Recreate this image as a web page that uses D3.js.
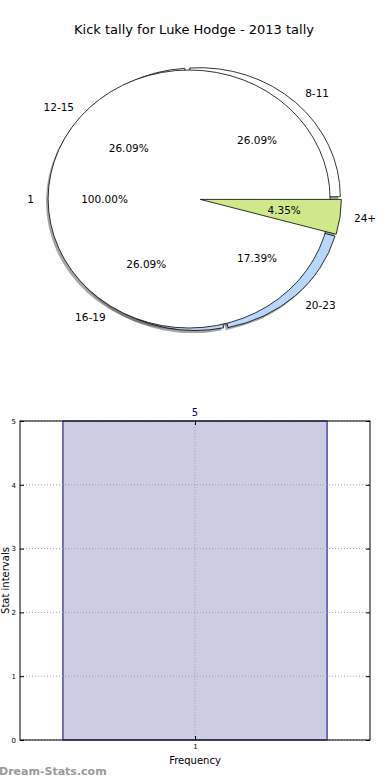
<!DOCTYPE html>
<html>
<head>
<meta charset="utf-8">
<script src="https://cdn.jsdelivr.net/npm/d3@7"></script>
<style>
  body { margin: 0; background: #fff; }
  svg { display: block; font-family: "DejaVu Sans", sans-serif; }
</style>
</head>
<body>
<div id="chart"></div>
<script>
// pie data
const pieLabels = ["8-11", "12-15", "16-19", "20-23", "24+"];
const pieCounts = [6, 6, 6, 4, 1];
const pieColors = ["#ffffff", "#ffffff", "#b9d7fb", "#b9d7fb", "#cfe98a"];
const wholeLabels = ["1"];
const wholeCounts = [23];

// bar data
const barCats = [1];
const barValues = [5];
const yTicks = [0, 1, 2, 3, 4, 5];

const width = 390;
const height = 780;

const svg = d3.select("#chart")
  .append("svg")
  .attr("width", width)
  .attr("height", height);

svg.append("text")
  .attr("x", 194)
  .attr("y", 34)
  .attr("text-anchor", "middle")
  .attr("font-size", 13)
  .attr("fill", "#000")
  .text("Kick tally for Luke Hodge - 2013 tally");

drawPie();
drawBars();

function drawPie() {
  // pie is an ellipse: unit circle mapped through two scales
  const px = d3.scaleLinear().domain([-1, 1]).range([197 - 141, 197 + 141]);
  const py = d3.scaleLinear().domain([-1, 1]).range([199 + 129, 199 - 129]);
  const explode = 0.024;
  const wholeShift = -0.056;
  const shadow = [-0.015, -0.02];

  // matplotlib style: start at 3 o'clock, counterclockwise
  const pie = d3.pie().sort(null).startAngle(Math.PI / 2).endAngle(Math.PI / 2 - 2 * Math.PI);
  const arc = d3.arc().innerRadius(0).outerRadius(1);
  const slices = pie(pieCounts);
  const whole = pie(wholeCounts);
  const total = d3.sum(pieCounts);

  const mid = d => (d.startAngle + d.endAngle) / 2;
  const ux = a => Math.sin(a);
  const uy = a => Math.cos(a);

  const g = svg.append("g")
    .attr("transform", `translate(${px(0)},${py(0)}) scale(${px(1) - px(0)},${py(0) - py(1)})`);

  const off = d => [explode * ux(mid(d)), -explode * uy(mid(d))];

  // shadows
  g.append("g").selectAll("path")
    .data(slices)
    .join("path")
    .attr("d", arc)
    .attr("transform", d => `translate(${off(d)[0] + shadow[0]},${off(d)[1] - shadow[1]})`)
    .attr("fill", "#4d4d4d")
    .attr("fill-opacity", 0.5);

  g.append("g").selectAll("path")
    .data(whole)
    .join("path")
    .attr("d", arc)
    .attr("transform", `translate(${wholeShift + shadow[0]},${-shadow[1]})`)
    .attr("fill", "#4d4d4d")
    .attr("fill-opacity", 0.5);

  // exploded slices (all but last)
  g.append("g").selectAll("path")
    .data(slices.slice(0, -1))
    .join("path")
    .attr("d", arc)
    .attr("transform", d => `translate(${off(d)[0]},${off(d)[1]})`)
    .attr("fill", d => pieColors[d.index])
    .attr("stroke", "#000")
    .attr("stroke-width", 0.8)
    .attr("vector-effect", "non-scaling-stroke");

  // the whole pie on top
  g.append("g").selectAll("path")
    .data(whole)
    .join("path")
    .attr("d", arc)
    .attr("transform", `translate(${wholeShift},0)`)
    .attr("fill", "#fff")
    .attr("stroke", "#000")
    .attr("stroke-width", 0.8)
    .attr("vector-effect", "non-scaling-stroke");

  // last slice drawn over it
  g.append("g").selectAll("path")
    .data(slices.slice(-1))
    .join("path")
    .attr("d", arc)
    .attr("transform", d => `translate(${off(d)[0]},${off(d)[1]})`)
    .attr("fill", d => pieColors[d.index])
    .attr("stroke", "#000")
    .attr("stroke-width", 0.8)
    .attr("vector-effect", "non-scaling-stroke");

  // labels
  const labels = svg.append("g").attr("font-size", 10.5).attr("fill", "#000");

  function addLabels(data, names, counts, sum, dx) {
    data.forEach((d, i) => {
      const a = mid(d);
      const cx = dx + (dx === 0 ? explode * ux(a) : 0);
      const cy = dx === 0 ? explode * uy(a) : 0;
      const lx = cx + 1.1 * ux(a);
      const ly = cy + 1.1 * uy(a);
      labels.append("text")
        .attr("x", px(lx))
        .attr("y", py(ly))
        .attr("dy", "0.35em")
        .attr("text-anchor", lx > cx + 0.001 ? "start" : (lx < cx - 0.001 ? "end" : "middle"))
        .text(names[i]);
      labels.append("text")
        .attr("x", px(cx + 0.6 * ux(a)))
        .attr("y", py(cy + 0.6 * uy(a)))
        .attr("dy", "0.35em")
        .attr("text-anchor", "middle")
        .text((counts[i] / sum * 100).toFixed(2) + "%");
    });
  }

  addLabels(slices, pieLabels, pieCounts, total, 0);
  addLabels(whole, wholeLabels, wholeCounts, d3.sum(wholeCounts), wholeShift);
}

function drawBars() {
  const left = 20, right = 370, top = 421, bottom = 740;
  const x = d3.scaleLinear().domain([0.47, 1.53]).range([left, right]);
  const y = d3.scaleLinear().domain([0, 5]).range([bottom, top]);
  const barW = 0.8;

  const g = svg.append("g");

  // bars
  g.selectAll("rect.bar")
    .data(barValues)
    .join("rect")
    .attr("class", "bar")
    .attr("x", (d, i) => x(barCats[i] - barW / 2))
    .attr("y", d => y(d))
    .attr("width", (d, i) => x(barCats[i] + barW / 2) - x(barCats[i] - barW / 2))
    .attr("height", d => y(0) - y(d))
    .attr("fill", "#ccccE2")
    .attr("stroke", "#000080")
    .attr("stroke-width", 1);

  // grid
  g.selectAll("line.hgrid")
    .data(yTicks)
    .join("line")
    .attr("x1", left).attr("x2", right)
    .attr("y1", d => y(d)).attr("y2", d => y(d))
    .attr("stroke", "#a0a0a0")
    .attr("stroke-dasharray", "1,2");

  g.selectAll("line.vgrid")
    .data(barCats)
    .join("line")
    .attr("x1", d => x(d)).attr("x2", d => x(d))
    .attr("y1", top).attr("y2", bottom)
    .attr("stroke", "#a0a0a0")
    .attr("stroke-dasharray", "1,2");

  // value label
  g.selectAll("text.val")
    .data(barValues)
    .join("text")
    .attr("x", (d, i) => x(barCats[i]))
    .attr("y", d => y(d) - 5)
    .attr("text-anchor", "middle")
    .attr("font-size", 10)
    .attr("fill", "#000080")
    .text(d => d);

  // axes
  const yAxis = g.append("g")
    .attr("transform", `translate(${left},0)`)
    .call(d3.axisLeft(y).tickValues(yTicks).tickSize(-4).tickPadding(4).tickFormat(d3.format("d")));
  yAxis.selectAll("text").attr("font-size", 7).attr("font-family", "DejaVu Sans");

  g.append("g")
    .attr("transform", `translate(${right},0)`)
    .call(d3.axisRight(y).tickValues(yTicks).tickSize(-4).tickFormat(""));

  const xAxis = g.append("g")
    .attr("transform", `translate(0,${bottom})`)
    .call(d3.axisBottom(x).tickValues(barCats).tickSize(-4).tickPadding(4).tickFormat(d3.format("d")));
  xAxis.selectAll("text").attr("font-size", 7).attr("font-family", "DejaVu Sans");

  g.append("g")
    .attr("transform", `translate(0,${top})`)
    .call(d3.axisTop(x).tickValues(barCats).tickSize(-4).tickFormat(""));

  g.selectAll(".domain").remove();

  g.append("rect")
    .attr("x", left).attr("y", top)
    .attr("width", right - left).attr("height", bottom - top)
    .attr("fill", "none")
    .attr("stroke", "#000")
    .attr("stroke-width", 1);

  g.append("text")
    .attr("x", (left + right) / 2)
    .attr("y", 764)
    .attr("text-anchor", "middle")
    .attr("font-size", 10)
    .text("Frequency");

  g.append("text")
    .attr("transform", `translate(9,${(top + bottom) / 2}) rotate(-90)`)
    .attr("text-anchor", "middle")
    .attr("font-size", 10)
    .text("Stat intervals");

  svg.append("text")
    .attr("x", -1)
    .attr("y", 775)
    .attr("font-size", 11)
    .attr("font-weight", "bold")
    .attr("fill", "#999")
    .text("Dream-Stats.com");
}
</script>
</body>
</html>
